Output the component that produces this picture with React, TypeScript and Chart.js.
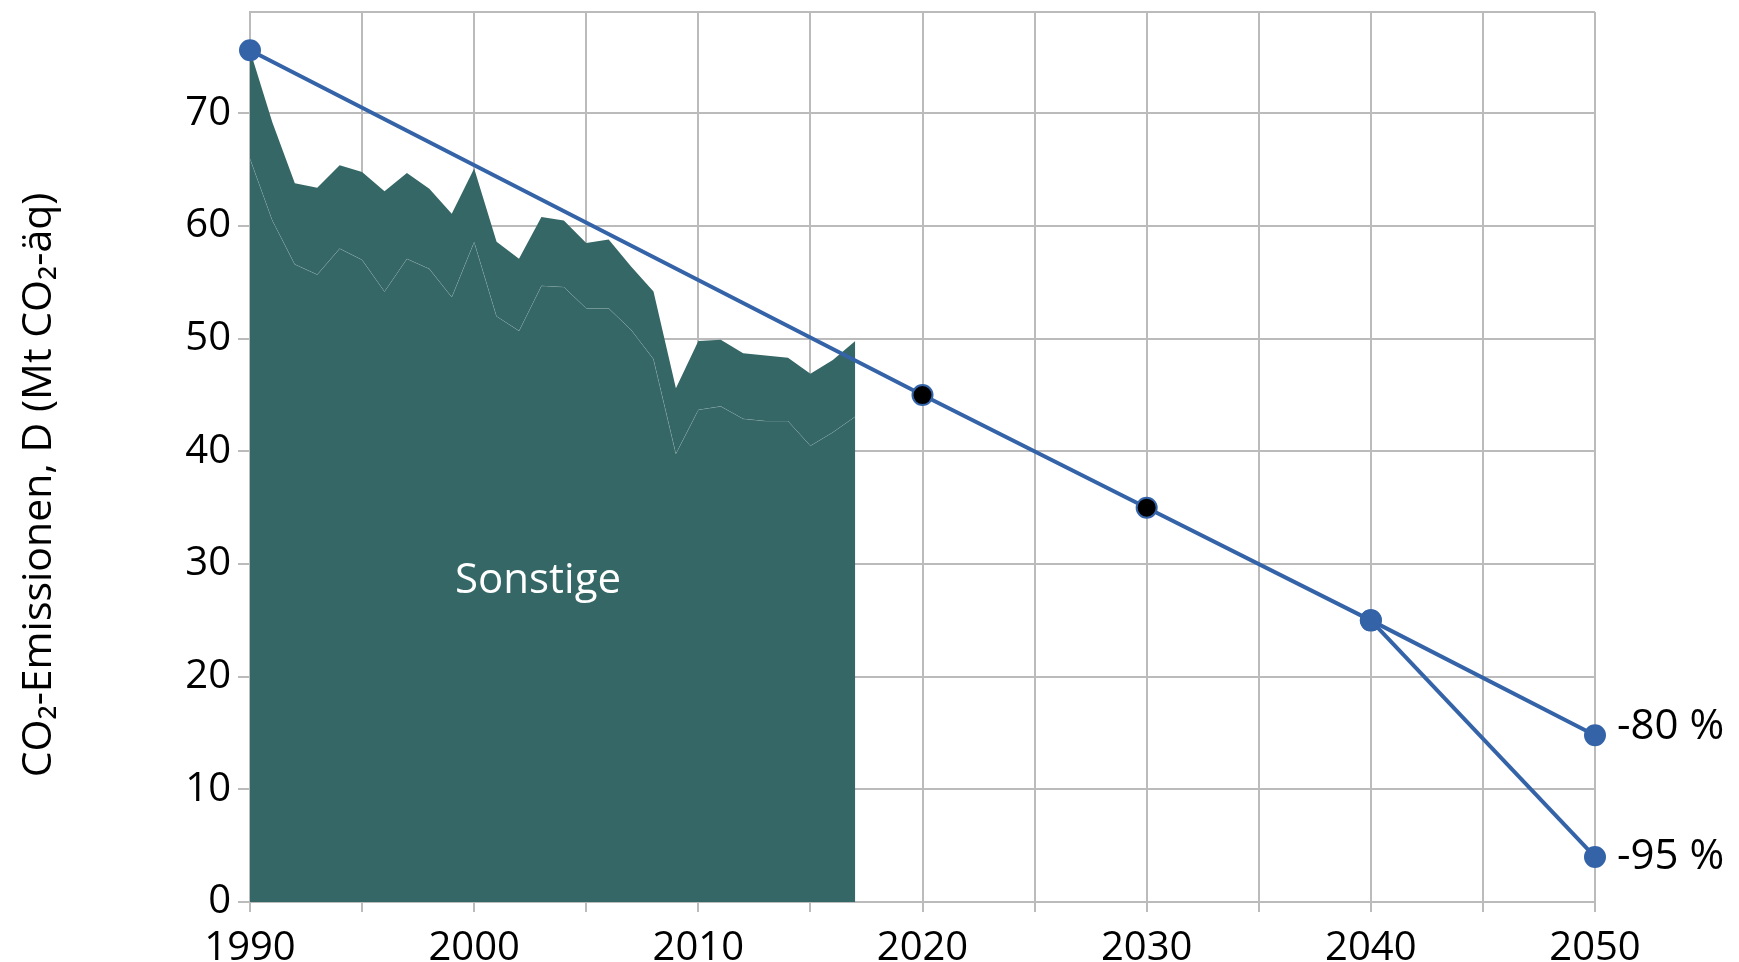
import React, { useEffect, useRef } from "react";
import { Chart, registerables } from "chart.js";

Chart.register(...registerables);

// ---- data ----
const histYears = [
  1990, 1991, 1992, 1993, 1994, 1995, 1996, 1997, 1998, 1999,
  2000, 2001, 2002, 2003, 2004, 2005, 2006, 2007, 2008, 2009,
  2010, 2011, 2012, 2013, 2014, 2015, 2016, 2017,
];
// lower band (thin inner line)
const sonstigeLower = [
  66.0, 60.5, 56.6, 55.7, 58.0, 57.0, 54.2, 57.1, 56.2, 53.7,
  58.6, 52.0, 50.7, 54.7, 54.6, 52.7, 52.7, 50.8, 48.2, 39.8,
  43.7, 44.0, 42.9, 42.7, 42.7, 40.5, 41.7, 43.1,
];
// total (top edge of area)
const sonstigeTotal = [
  75.6, 69.2, 63.8, 63.4, 65.4, 64.8, 63.1, 64.7, 63.3, 61.1,
  65.1, 58.6, 57.1, 60.8, 60.5, 58.5, 58.8, 56.4, 54.2, 45.6,
  49.8, 49.9, 48.7, 48.5, 48.3, 46.9, 48.1, 49.8,
];
const targetYears = [1990, 2020, 2030, 2040, 2050];
const target80 = [75.6, 45.0, 35.0, 25.0, 14.8];
const target95Years = [2040, 2050];
const target95 = [25.0, 4.0];
const targetMarkerFill = ["#3463A8", "#000000", "#000000", "#3463A8", "#3463A8"];
const endLabels = ["-80 %", "-95 %"];
const areaLabel = "Sonstige";
const yTitle = "CO₂-Emissionen, D (Mt CO₂-äq)";
const yTickValues = [0, 10, 20, 30, 40, 50, 60, 70];
const xLabelYears = [1990, 2000, 2010, 2020, 2030, 2040, 2050];

const AREA = "#356767";
const BLUE = "#3463A8";
const GRID = "#BBBBBB";
const FONT = '"Open Sans", "Noto Sans", sans-serif';

export default function App() {
  const ref = useRef<HTMLCanvasElement | null>(null);

  useEffect(() => {
    if (!ref.current) return;
    const toXY = (xs: number[], ys: number[]) => xs.map((x, i) => ({ x, y: ys[i] }));

    const extras = {
      id: "extras",
      beforeDatasetsDraw(chart: any) {
        const { ctx, chartArea } = chart;
        ctx.save();
        // top border of plot area
        ctx.strokeStyle = GRID;
        ctx.lineWidth = 2;
        ctx.beginPath();
        ctx.moveTo(chartArea.left, chartArea.top);
        ctx.lineTo(chartArea.right, chartArea.top);
        ctx.stroke();
        ctx.restore();
      },
      afterDatasetsDraw(chart: any) {
        const { ctx, scales } = chart;
        const xs = scales.x;
        const ys = scales.y;
        ctx.save();
        // area label
        ctx.fillStyle = "#ffffff";
        ctx.font = `42px ${FONT}`;
        ctx.textAlign = "center";
        ctx.textBaseline = "middle";
        ctx.fillText(areaLabel, xs.getPixelForValue(2002.85), ys.getPixelForValue(28.5));
        // end labels
        ctx.fillStyle = "#000000";
        ctx.font = `42px ${FONT}`;
        ctx.textAlign = "left";
        const last80 = target80[target80.length - 1];
        const last95 = target95[target95.length - 1];
        ctx.fillText(endLabels[0], xs.getPixelForValue(2050) + 22, ys.getPixelForValue(last80) - 8);
        ctx.fillText(endLabels[1], xs.getPixelForValue(2050) + 22, ys.getPixelForValue(last95));
        // y title
        ctx.translate(39, 485);
        ctx.rotate(-Math.PI / 2);
        ctx.textAlign = "center";
        ctx.textBaseline = "middle";
        ctx.font = `41px ${FONT}`;
        ctx.fillText(yTitle, 0, 0);
        ctx.restore();
      },
    };

    const chart = new Chart(ref.current, {
      type: "line",
      data: {
        datasets: [
          {
            label: "Sonstige lower",
            data: toXY(histYears, sonstigeLower),
            fill: "origin",
            backgroundColor: AREA,
            borderColor: "rgba(255,255,255,0.28)",
            borderWidth: 1,
            pointRadius: 0,
            tension: 0,
            order: 3,
          },
          {
            label: "Sonstige",
            data: toXY(histYears, sonstigeTotal),
            fill: "-1",
            backgroundColor: AREA,
            borderColor: AREA,
            borderWidth: 0,
            pointRadius: 0,
            tension: 0,
            order: 2,
          },
          {
            label: "Ziel -95",
            data: toXY(target95Years, target95),
            fill: false,
            clip: false,
            borderColor: BLUE,
            borderWidth: 4,
            pointRadius: 10,
            pointBackgroundColor: BLUE,
            pointBorderColor: BLUE,
            pointBorderWidth: 2,
            order: 1,
          },
          {
            label: "Ziel -80",
            data: toXY(targetYears, target80),
            fill: false,
            clip: false,
            borderColor: BLUE,
            borderWidth: 4,
            pointRadius: 10,
            pointBackgroundColor: targetMarkerFill,
            pointBorderColor: BLUE,
            pointBorderWidth: 2,
            order: 0,
          },
        ],
      },
      options: {
        responsive: false,
        animation: false,
        layout: { padding: { left: 0, right: 144, top: 10, bottom: 0 } },
        plugins: { legend: { display: false }, tooltip: { enabled: false } },
        scales: {
          x: {
            type: "linear",
            min: 1990,
            max: 2050,
            afterFit: (s: any) => {
              s.height = 60;
              s.paddingLeft = 0;
              s.paddingRight = 0;
            },
            ticks: {
              stepSize: 5,
              autoSkip: false,
              maxRotation: 0,
              padding: 13,
              color: "#000000",
              font: { family: FONT, size: 40 },
              callback: (v: any) => (xLabelYears.includes(Number(v)) ? String(v) : ""),
            },
            grid: { color: GRID, lineWidth: 2, tickLength: 10, tickColor: GRID },
            border: { color: GRID, width: 2 },
          },
          y: {
            type: "linear",
            min: 0,
            max: 79,
            afterFit: (s: any) => {
              s.width = 250;
              s.paddingTop = 0;
              s.paddingBottom = 0;
            },
            afterBuildTicks: (s: any) => {
              s.ticks = yTickValues.map((v) => ({ value: v }));
            },
            ticks: {
              stepSize: 10,
              padding: 7,
              color: "#000000",
              font: { family: FONT, size: 40 },
            },
            grid: { color: GRID, lineWidth: 2, tickLength: 12, tickColor: GRID },
            border: { color: GRID, width: 2 },
          },
        },
      },
      plugins: [extras],
    });
    return () => chart.destroy();
  }, []);

  return (
    <div style={{ position: "absolute", left: 0, top: 0, width: 1739, height: 962, background: "#fff" }}>
      <canvas ref={ref} width={1739} height={962} style={{ width: 1739, height: 962 }} />
    </div>
  );
}
